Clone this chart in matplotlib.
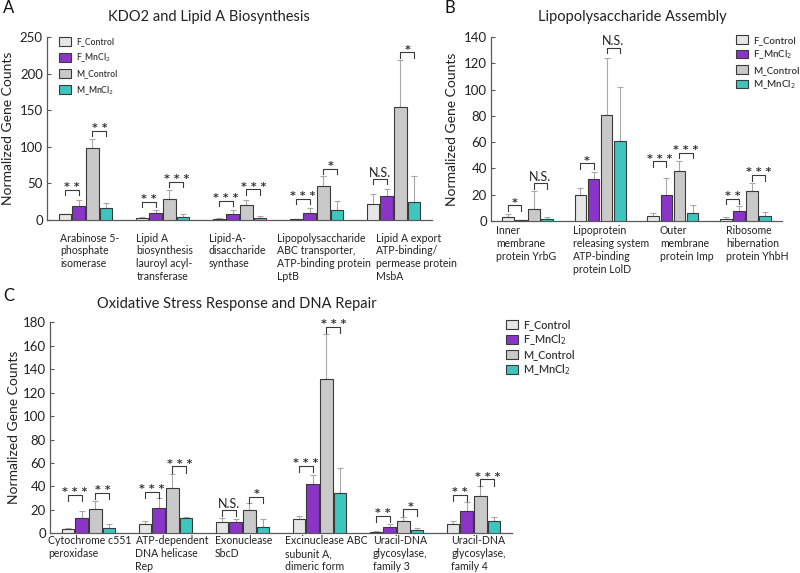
import numpy as np
import matplotlib
matplotlib.use("Agg")
import matplotlib.pyplot as plt

plt.rcParams['font.family'] = ['Lato', 'DejaVu Sans']

series_names = ["F_Control", "F_MnCl$_2$", "M_Control", "M_MnCl$_2$"]
series_colors = ["#e6e6e6", "#8a35c8", "#c9c9c9", "#3cc6be"]

# ---------- Panel A ----------
a_title = "KDO2 and Lipid A Biosynthesis"
a_cats = ["Arabinose 5-\nphosphate\nisomerase",
          "Lipid A\nbiosynthesis\nlauroyl acyl-\ntransferase",
          "Lipid-A-\ndisaccharide\nsynthase",
          "Lipopolysaccharide\nABC transporter,\nATP-binding protein\nLptB",
          "Lipid A export\nATP-binding/\npermease protein\nMsbA"]
a_f_ctrl = [7.7, 3, 2, 1, 22]
a_f_ctrl_sd = [1, 0.8, 0.5, 0.5, 13.5]
a_f_mn = [19, 9, 8.6, 10, 33]
a_f_mn_sd = [9, 4.6, 4.4, 6.4, 10]
a_m_ctrl = [98.6, 29, 20, 46, 155]
a_m_ctrl_sd = [11.5, 11.5, 7, 13.5, 63]
a_m_mn = [17, 4, 3, 13.6, 24.5]
a_m_mn_sd = [6, 3.7, 3, 12.4, 35]
a_sig = [(0, 0, "* *", 41), (0, 2, "* *", 122), (1, 0, "* *", 25), (1, 2, "* * *", 52),
         (2, 0, "* * *", 26), (2, 2, "* * *", 42), (3, 0, "* * *", 29), (3, 2, "*", 70),
         (4, 0, "N.S.", 56), (4, 2, "*", 229)]
a_label_shift = [0.17, 0.16, 0.10, -0.01, 0.27]

# ---------- Panel B ----------
b_title = "Lipopolysaccharide Assembly"
b_cats = ["Inner\nmembrane\nprotein YrbG",
          "Lipoprotein\nreleasing system\nATP-binding\nprotein LolD",
          "Outer\nmembrane\nprotein Imp",
          "Ribosome\nhibernation\nprotein YhbH"]
b_f_ctrl = [3.3, 19.5, 4, 1.8]
b_f_ctrl_sd = [1.7, 5.8, 1.8, 1]
b_f_mn = [0.8, 32, 20, 7.6]
b_f_mn_sd = [0.3, 5, 12.7, 3.8]
b_m_ctrl = [8.9, 80.8, 37.7, 22.8]
b_m_ctrl_sd = [13.9, 43, 8.1, 6.1]
b_m_mn = [1.8, 61, 5.8, 4]
b_m_mn_sd = [1, 41, 6.6, 2.6]
b_sig = [(0, 0, "*", 12), (0, 2, "N.S.", 28.6), (1, 0, "*", 44), (1, 2, "N.S.", 132),
         (2, 0, "* * *", 45.5), (2, 2, "* * *", 52), (3, 0, "* *", 17), (3, 2, "* * *", 35)]
b_label_shift = [0.07, 0.13, 0.32, 0.23]

# ---------- Panel C ----------
c_title = "Oxidative Stress Response and DNA Repair"
c_cats = ["Cytochrome c551\nperoxidase",
          "ATP-dependent\nDNA helicase\nRep",
          "Exonuclease\nSbcD",
          "Excinuclease ABC\nsubunit A,\ndimeric form",
          "Uracil-DNA\nglycosylase,\nfamily 3",
          "Uracil-DNA\nglycosylase,\nfamily 4"]
c_f_ctrl = [3.7, 8, 9.4, 12, 1.4, 8]
c_f_ctrl_sd = [0.6, 2.8, 4, 3, 0.6, 2.5]
c_f_mn = [13.4, 22, 10, 41.8, 5.4, 19]
c_f_mn_sd = [5.9, 8, 2.5, 8.2, 2.6, 8]
c_m_ctrl = [21, 38.4, 19.6, 132, 10.5, 32]
c_m_ctrl_sd = [6.3, 12.6, 6, 38, 3.1, 8.7]
c_m_mn = [4.5, 12.8, 5.7, 34, 3, 10.2]
c_m_mn_sd = [3.2, 1.2, 6.8, 22, 1.5, 3.8]
c_sig = [(0, 0, "* * *", 33), (0, 2, "* *", 34.7), (1, 0, "* * *", 35.5), (1, 2, "* * *", 57),
         (2, 0, "N.S.", 20), (2, 2, "*", 31), (3, 0, "* * *", 57.4), (3, 2, "* * *", 176),
         (4, 0, "* *", 14.8), (4, 2, "*", 20.5), (5, 0, "* *", 33), (5, 2, "* * *", 46)]
c_label_shift = [-0.02, 0.11, 0.14, 0.05, 0.19, 0.21]

W = 800
H = 573
fig = plt.figure(figsize=(8.0, 5.73), dpi=100)

STEP = 0.18
BW = 0.16
offsets = (np.arange(4) - 1.5) * STEP
AXC = "#595959"
TXT = "#222222"


def draw_panel(rect, cats, vals, sds, sig, ymax, ystep, label_shift, label_dy, ylabel_pad):
    ax = fig.add_axes(rect)
    n = len(cats)
    x = np.arange(n)
    for i in range(4):
        xs = x + offsets[i]
        ax.bar(xs, vals[i], width=BW, color=series_colors[i], edgecolor="#3a3a3a",
               linewidth=0.8, zorder=3, label=series_names[i])
        ax.errorbar(xs, vals[i], yerr=[np.zeros(n), sds[i]], fmt="none",
                    ecolor="#a8a8a8", elinewidth=0.8, capsize=2, capthick=0.8, zorder=2)
    ax.set_xlim(-0.5, n - 0.5)
    ax.set_ylim(0, ymax)
    ax.set_yticks(np.arange(0, ymax + 1, ystep))
    ax.set_xticks([])
    for s in ["top", "right"]:
        ax.spines[s].set_visible(False)
    for s in ["left", "bottom"]:
        ax.spines[s].set_color(AXC)
        ax.spines[s].set_linewidth(0.9)
    ax.tick_params(axis="y", direction="in", length=3, color=AXC, labelsize=9.5,
                   pad=3, labelcolor=TXT)
    ax.set_ylabel("Normalized Gene Counts", fontsize=10, color=TXT, labelpad=ylabel_pad)
    tl = 0.03 * ymax
    for (c, b, txt, h) in sig:
        x1 = c + offsets[b]
        x2 = c + offsets[b + 1]
        ax.plot([x1, x1, x2, x2], [h - tl, h, h, h - tl], color="#3a3a3a", lw=0.8,
                zorder=4, clip_on=False)
        if txt == "N.S.":
            ax.annotate(txt, xy=((x1 + x2) / 2, h), xytext=(0, 1.5), textcoords="offset points",
                        ha="center", va="baseline", fontsize=9, color=TXT,
                        annotation_clip=False)
        else:
            ax.annotate(txt, xy=((x1 + x2) / 2, h), xytext=(0, -0.3), textcoords="offset points",
                        ha="center", va="baseline", fontsize=8, color="#333333",
                        family="DejaVu Sans", fontweight="bold", annotation_clip=False)
    for i, lab in enumerate(cats):
        ax.annotate(lab, xy=(i - 0.5 + label_shift[i], 0), xycoords=("data", "axes fraction"),
                    xytext=(0, -label_dy), textcoords="offset points", ha="left", va="top",
                    fontsize=7.6, linespacing=1.22, color=TXT, annotation_clip=False)
    return ax


def rect(l, r, top_px, bot_px):
    return [l / W, 1 - bot_px / H, (r - l) / W, (bot_px - top_px) / H]


def legend_at(ax, x_px, y_px, fs, lsp):
    fpx = fs * 100 / 72.0
    leg = ax.legend(loc="upper left", bbox_to_anchor=(x_px / W, 1 - y_px / H),
                    bbox_transform=fig.transFigure, frameon=False, fontsize=fs,
                    handlelength=12 / fpx, handleheight=10 / fpx, handletextpad=5 / fpx,
                    labelspacing=lsp, borderpad=0, borderaxespad=0)
    for t in leg.get_texts():
        t.set_color("#333333")
        t.set_fontweight("semibold")


axA = draw_panel(rect(47, 432, 37, 220), a_cats,
                 [a_f_ctrl, a_f_mn, a_m_ctrl, a_m_mn],
                 [a_f_ctrl_sd, a_f_mn_sd, a_m_ctrl_sd, a_m_mn_sd],
                 a_sig, 250, 50, a_label_shift, 9, 4)
legend_at(axA, 59, 37, 6.2, 0.6)

axB = draw_panel(rect(491, 782, 37, 221), b_cats,
                 [b_f_ctrl, b_f_mn, b_m_ctrl, b_m_mn],
                 [b_f_ctrl_sd, b_f_mn_sd, b_m_ctrl_sd, b_m_mn_sd],
                 b_sig, 140, 20, b_label_shift, 3, 4)
legend_at(axB, 736, 35, 7.0, 0.38)

axC = draw_panel(rect(50, 512, 322.3, 533.3), c_cats,
                 [c_f_ctrl, c_f_mn, c_m_ctrl, c_m_mn],
                 [c_f_ctrl_sd, c_f_mn_sd, c_m_ctrl_sd, c_m_mn_sd],
                 c_sig, 180, 20, c_label_shift, 1.5, 2)
legend_at(axC, 506, 319, 7.8, 0.2)

fig.text(209 / W, 1 - 17 / H, a_title, ha="center", va="center", fontsize=10.5, color=TXT)
fig.text(632 / W, 1 - 17 / H, b_title, ha="center", va="center", fontsize=10.5, color=TXT)
fig.text(237 / W, 1 - 304 / H, c_title, ha="center", va="center", fontsize=10.5, color=TXT)
fig.text(3 / W, 1 - 8 / H, "A", ha="left", va="center", fontsize=12, color="#111111")
fig.text(444 / W, 1 - 8 / H, "B", ha="left", va="center", fontsize=12, color="#111111")
fig.text(3 / W, 1 - 296 / H, "C", ha="left", va="center", fontsize=12, color="#111111")

fig.savefig("out.png", dpi=100, facecolor="white")
